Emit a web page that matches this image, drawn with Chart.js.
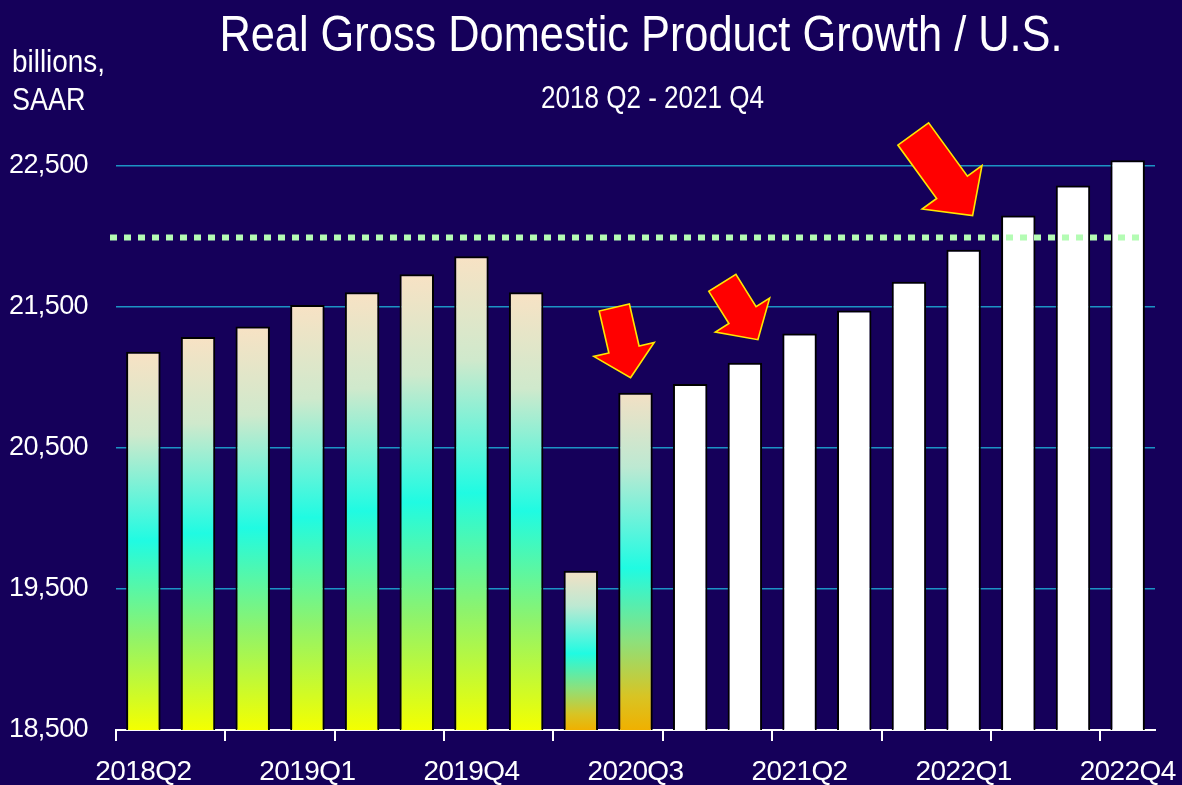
<!DOCTYPE html>
<html>
<head>
<meta charset="utf-8">
<title>Real Gross Domestic Product Growth / U.S.</title>
<script src="https://cdn.jsdelivr.net/npm/chart.js@4.4.1/dist/chart.umd.min.js"></script>
<style>
  html, body { margin: 0; padding: 0; background: #15005a; }
  #wrap { width: 1182px; height: 785px; }
</style>
</head>
<body>
<div id="wrap"><canvas id="gdpChart" width="1182" height="785"></canvas></div>
<script>
// data
const quarters = ["2018Q2", "2018Q3", "2018Q4", "2019Q1", "2019Q2", "2019Q3", "2019Q4",
  "2020Q1", "2020Q2", "2020Q3", "2020Q4", "2021Q1", "2021Q2", "2021Q3", "2021Q4",
  "2022Q1", "2022Q2", "2022Q3", "2022Q4"];
const gdp = [21181, 21285, 21360, 21512, 21602, 21729, 21857, 21602, 19628, 20890,
  20952, 21103, 21309, 21472, 21677, 21904, 22145, 22358, 22538];
const yTicks = [18500, 19500, 20500, 21500, 22500];
const preCovidLevel = 21990;
const actualCount = 10; // first bars are history, the rest are forecast

const FONT = "'Liberation Sans', Arial, sans-serif";
const BG = "#15005a";

// arrows pointing at bars
const arrows = [
  { bar: 9, dx: -5, dy: -15, angle: 77, len: 72, shaft: 31, head: 62, headLen: 29 },
  { bar: 11, dx: 13, dy: -23, angle: 58, len: 67, shaft: 32, head: 64, headLen: 29 },
  { bar: 15, dx: 9, dy: -34, angle: 54, len: 101, shaft: 38, head: 74, headLen: 35 }
];

function barGradient(ctx) {
  const chart = ctx.chart;
  const area = chart.chartArea;
  if (!area || ctx.type !== "data") return "#ffffff";
  const i = ctx.dataIndex;
  if (i >= actualCount) return "#ffffff";
  const y = chart.scales.y;
  const top = y.getPixelForValue(gdp[i]);
  const bottom = y.getPixelForValue(yTicks[0]);
  const g = chart.ctx.createLinearGradient(0, top, 0, bottom);
  if (i < 8) {
    g.addColorStop(0, "#f8e2c4");
    g.addColorStop(0.22, "#cfe9cc");
    g.addColorStop(0.5, "#20fbe2");
    g.addColorStop(0.75, "#8ef36c");
    g.addColorStop(1, "#f4ff00");
  } else {
    g.addColorStop(0, "#f3e0c4");
    g.addColorStop(0.22, "#bde9d2");
    g.addColorStop(0.52, "#20fbe2");
    g.addColorStop(0.74, "#8ee07a");
    g.addColorStop(0.9, "#d8c424");
    g.addColorStop(1, "#f0b000");
  }
  return g;
}

// condensed text: the original face is a narrow sans
function narrowText(c, text, x, y, size, squeeze, align) {
  c.save();
  c.font = size + "px " + FONT;
  c.textAlign = align;
  c.textBaseline = "alphabetic";
  c.translate(x, y);
  c.scale(squeeze, 1);
  c.fillText(text, 0, 0);
  c.restore();
}

const backgroundPlugin = {
  id: "background",
  beforeDraw(chart) {
    const c = chart.ctx;
    c.save();
    c.fillStyle = BG;
    c.fillRect(0, 0, chart.width, chart.height);
    c.restore();
    c.letterSpacing = "-0.6px";
  }
};

const headerPlugin = {
  id: "header",
  afterDraw(chart) {
    const c = chart.ctx;
    c.save();
    c.letterSpacing = "0px";
    c.fillStyle = "#ffffff";
    narrowText(c, "Real Gross Domestic Product Growth / U.S.", 641, 51, 50, 0.867, "center");
    narrowText(c, "2018 Q2 - 2021 Q4", 652.5, 107.5, 31, 0.84, "center");
    narrowText(c, "billions,", 12, 72, 31, 0.9, "left");
    narrowText(c, "SAAR", 12, 110, 31, 0.87, "left");
    c.restore();
  }
};

const refLinePlugin = {
  id: "refLine",
  afterDatasetsDraw(chart) {
    const c = chart.ctx;
    const area = chart.chartArea;
    const y = chart.scales.y.getPixelForValue(preCovidLevel);
    c.save();
    c.strokeStyle = "#b4fcb4";
    c.lineWidth = 6;
    c.setLineDash([7, 7]);
    c.beginPath();
    c.moveTo(area.left - 6, y);
    c.lineTo(area.right - 15, y);
    c.stroke();
    c.restore();
  }
};

const arrowPlugin = {
  id: "arrows",
  afterDatasetsDraw(chart) {
    const c = chart.ctx;
    const bars = chart.getDatasetMeta(0).data;
    arrows.forEach(a => {
      const b = bars[a.bar];
      c.save();
      c.translate(b.x + a.dx, b.y + a.dy);
      c.rotate(a.angle * Math.PI / 180);
      // arrow pointing along +x, tip at origin
      c.beginPath();
      c.moveTo(0, 0);
      c.lineTo(-a.headLen, -a.head / 2);
      c.lineTo(-a.headLen, -a.shaft / 2);
      c.lineTo(-a.len, -a.shaft / 2);
      c.lineTo(-a.len, a.shaft / 2);
      c.lineTo(-a.headLen, a.shaft / 2);
      c.lineTo(-a.headLen, a.head / 2);
      c.closePath();
      c.fillStyle = "#ff0000";
      c.fill();
      c.strokeStyle = "#ffe600";
      c.lineWidth = 1.6;
      c.stroke();
      c.restore();
    });
  }
};

new Chart(document.getElementById("gdpChart"), {
  type: "bar",
  data: {
    labels: quarters,
    datasets: [{
      data: gdp,
      backgroundColor: barGradient,
      borderColor: "#000000",
      borderWidth: 2,
      barPercentage: 0.63,
      categoryPercentage: 1
    }]
  },
  options: {
    responsive: false,
    animation: false,
    devicePixelRatio: 1,
    layout: { padding: { top: 150, right: 27, left: 0, bottom: 0 } },
    plugins: {
      legend: { display: false },
      tooltip: { enabled: false }
    },
    scales: {
      x: {
        offset: true,
        afterFit(scale) {
          scale.height = 55;
          scale.paddingLeft = 0;
          scale.paddingRight = 0;
        },
        grid: {
          offset: true,
          drawOnChartArea: false,
          drawTicks: true,
          tickLength: 11,
          lineWidth: 2,
          color: ctx => (ctx.index % 2 === 0 ? "#ffffff" : "rgba(0,0,0,0)")
        },
        border: { display: true, color: "#ffffff", width: 2 },
        ticks: {
          autoSkip: false,
          maxRotation: 0,
          padding: 14,
          color: "#ffffff",
          font: { family: FONT, size: 28 },
          callback: (v, i) => (i % 3 === 0 ? quarters[i] : "")
        }
      },
      y: {
        min: yTicks[0],
        max: 22610,
        afterFit(scale) { scale.width = 116; },
        afterBuildTicks(scale) { scale.ticks = yTicks.map(v => ({ value: v })); },
        grid: {
          drawTicks: false,
          lineWidth: 1.5,
          color: ctx => (ctx.tick && ctx.tick.value === yTicks[0] ? "rgba(0,0,0,0)" : "#1c93c4")
        },
        border: { display: false },
        ticks: {
          padding: 28,
          color: "#ffffff",
          font: { family: FONT, size: 27 },
          callback: v => v.toLocaleString("en-US")
        }
      }
    }
  },
  plugins: [backgroundPlugin, refLinePlugin, arrowPlugin, headerPlugin]
});
</script>
</body>
</html>
